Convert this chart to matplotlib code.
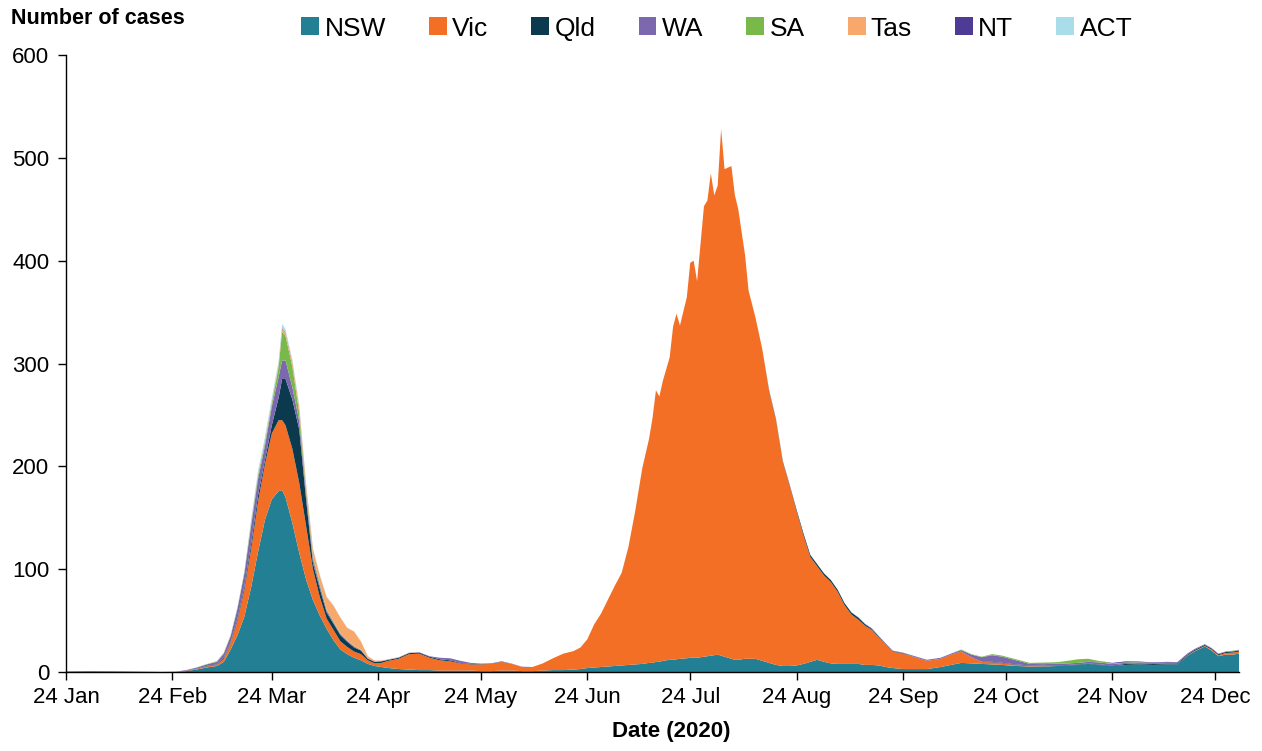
import numpy as np
import pandas as pd
import matplotlib
matplotlib.use('Agg')
import matplotlib.pyplot as plt
from matplotlib.patches import Patch

plt.rcParams['font.family'] = ['Liberation Sans', 'DejaVu Sans']

# sample dates (2020), grouped by month
days = (['01-24', '01-31', '02-07', '02-14', '02-21', '02-25', '02-28']
        + ['03-02', '03-05', '03-08', '03-10', '03-12', '03-14', '03-16', '03-18', '03-20', '03-22',
           '03-24', '03-26', '03-27', '03-28', '03-30']
        + ['04-01', '04-03', '04-05', '04-07', '04-09', '04-11', '04-13', '04-15', '04-17', '04-19',
           '04-21', '04-23', '04-25', '04-27', '04-30']
        + ['05-03', '05-06', '05-09', '05-12', '05-15', '05-18', '05-21', '05-24', '05-27', '05-30']
        + ['06-02', '06-05', '06-08', '06-11', '06-14', '06-17', '06-20', '06-22', '06-24', '06-26',
           '06-28', '06-30']
        + ['07-02', '07-04', '07-06', '07-08', '07-10', '07-12', '07-13', '07-14', '07-15', '07-16',
           '07-18', '07-19', '07-20', '07-21', '07-23', '07-24', '07-25', '07-26', '07-28', '07-29',
           '07-30', '07-31']
        + ['08-01', '08-02', '08-03', '08-05', '08-06', '08-07', '08-09', '08-10', '08-12', '08-14',
           '08-16', '08-18', '08-20', '08-22', '08-24', '08-26', '08-28', '08-30']
        + ['09-01', '09-03', '09-05', '09-07', '09-09', '09-11', '09-13', '09-15', '09-17', '09-19',
           '09-21', '09-24', '09-28']
        + ['10-01', '10-05', '10-08', '10-11', '10-14', '10-17', '10-20', '10-23', '10-27', '10-31']
        + ['11-04', '11-08', '11-11', '11-14', '11-17', '11-20', '11-24', '11-28']
        + ['12-02', '12-06', '12-10', '12-13', '12-16', '12-18', '12-21', '12-23', '12-25', '12-27',
           '12-29', '12-31'])

nsw = ([0.3, 0.5, 0.3, 0.2, 0.1, 0.3, 1]
       + [2.5, 4.5, 6, 10, 22, 36, 54, 83, 117, 148, 168, 176, 177, 170, 145]
       + [116, 90, 70, 55, 42, 31, 22, 17.5, 14, 11.5, 8, 6, 5, 4, 3]
       + [2.5, 2, 2, 1.5, 1.5, 1.5, 1.5, 1, 1, 1.5]
       + [1.5, 1, 1, 1.5, 2, 2, 2.5, 3, 4, 4.5, 5, 5.5]
       + [6, 6.5, 7, 7.5, 8, 9, 9, 10, 10, 11, 12, 12, 12.5, 13, 13.5, 14, 14, 14, 15, 15.5, 16, 16.5]
       + [17, 16, 15, 13, 12, 12, 13, 13, 13, 11, 9, 7, 6, 6, 6.5, 8, 10, 12]
       + [10, 8.5, 8, 8, 8, 8, 7, 7, 6.5, 5, 4, 3, 3]
       + [3, 5, 7, 9, 8.5, 8, 7.5, 7, 6, 5.5]
       + [5.5, 6, 6.5, 7, 8, 7, 6, 7]
       + [7.5, 7, 7.5, 7.5, 16, 20, 25, 21, 15.5, 17, 17, 18])

vic = ([0.3, 0.3, 0.2, 0.1, 0, 0, 0.3]
       + [0.5, 1, 1, 3, 6, 14, 26, 37, 49, 54, 64, 69, 68, 70, 72]
       + [68, 52, 30, 18, 10, 10, 8, 7, 6, 6, 3.5, 2.5, 4, 7, 10]
       + [15, 16, 12, 10, 9, 7, 6, 6.5, 7, 8.5]
       + [6.5, 4, 4, 7, 11.5, 16, 18, 21, 28, 42, 52, 65]
       + [78, 90, 115, 150, 190, 218, 238, 264, 258, 272, 294, 324, 336, 324, 351, 384, 386, 366,
          438, 443, 469, 447]
       + [456, 512, 474, 479, 452, 438, 392, 358, 332, 303, 264, 238, 198, 175, 150, 125, 102, 91]
       + [84, 79, 70, 57, 48, 43, 38, 34, 27, 22, 16, 15, 11]
       + [8, 8, 10, 11, 6, 2, 2, 1.5, 1, 0.5]
       + [0.3, 0.2, 0, 0, 0, 0, 0, 0]
       + [0, 0, 0, 0, 0.3, 0.5, 0.5, 1, 1, 1.5, 2, 2])

qld = ([0.2, 0.3, 0.3, 0.2, 0.1, 0, 0.2]
       + [0.3, 0.5, 0.5, 1, 1, 2, 3, 5, 6, 4, 8, 22, 40, 45, 48]
       + [52, 26, 6, 8, 6, 6, 6, 5, 4, 3.5, 1.5, 1.5, 1.5, 1, 1]
       + [1, 1, 1, 1, 1, 0.5, 0.5, 0.3, 0.3, 0.3]
       + [0] * 12
       + [0] * 22
       + [0] * 10 + [1, 1, 1, 1, 1.5, 2, 2, 2]
       + [2, 2, 2, 2, 2, 2, 1.5, 1, 1, 0.5, 0.5, 0.5, 0]
       + [0, 0, 0, 0, 0, 0, 0.5, 0.5, 0.5, 0.5]
       + [0.5, 0.5, 0.5, 0.5, 0.5, 0.5, 0.5, 1]
       + [1] * 12)

wa = ([0, 0, 0, 0, 0, 0.2, 0.5]
      + [1, 1.5, 2.5, 4, 6, 10, 13, 18, 16, 14, 18, 20, 18, 18, 12]
      + [8, 5, 4, 3, 2, 1.5, 1, 1, 1, 0.5, 0.5, 0.3, 0.3, 0.3, 0.3]
      + [0.3, 0.3, 0.5, 1.5, 2, 2, 1, 0.5, 0.3, 0.3]
      + [0.3, 0.3] + [0] * 10
      + [0] * 22
      + [0] * 18
      + [0, 0, 0, 0, 0, 0.5, 0.5, 0.5, 0.5, 0.5, 0.5, 0.5, 1]
      + [1, 1, 1, 1.5, 2.5, 4.5, 6.5, 6, 4, 1.5]
      + [1.5, 1.5, 1.5, 1.5, 1.5, 2, 1.5, 1]
      + [1, 1, 1, 1, 1, 1, 0.7, 0.5, 0.5, 0.5, 0.5, 0.5])

sa = ([0, 0, 0.2, 0, 0, 0, 0]
      + [0.2, 0.3, 0.5, 0.5, 0.5, 0.5, 1, 2, 3, 3, 3, 10, 28, 24, 20]
      + [8, 4, 3, 2, 1, 1, 1, 0.5, 0.5, 0.3, 0, 0, 0, 0, 0]
      + [0] * 10
      + [0] * 12
      + [0] * 22
      + [0] * 18
      + [0] * 13
      + [0, 0, 0, 0.5, 0.5, 0.5, 1, 1, 1, 1]
      + [1.5, 1.5, 2.5, 3.5, 3, 1.5, 0.5, 0.5]
      + [0.3] + [0] * 9 + [0.3, 0.3])

tas = ([0] * 7
       + [0, 0, 0.2, 0.3, 0.5, 0.5, 0.5, 1, 1, 1, 1, 2, 3, 3, 4]
       + [5, 5, 6, 8, 12, 15, 15, 12, 14, 8, 2, 1, 0.5, 0.3, 0.3]
       + [0.2] + [0] * 9
       + [0] * 12
       + [0] * 22
       + [0] * 18
       + [0] * 13
       + [0] * 10
       + [0] * 8
       + [0] * 12)

nt = ([0] * 7
      + [0, 0, 0, 0, 0, 0, 0, 0.5, 0.5, 0.5, 0.5, 0.5, 0.5, 0.5, 0.5]
      + [0.5, 0.3, 0.3] + [0] * 12
      + [0] * 10
      + [0] * 12
      + [0] * 22
      + [0] * 18
      + [0] * 13
      + [0] * 10
      + [0, 0, 0, 0, 0, 0, 0.5, 1]
      + [0.5, 0.5, 0.5, 0.3] + [0] * 8)

act = ([0] * 7
       + [0, 0, 0.2, 0.3, 0.5, 0.5, 0.5, 2.5, 3.5, 4, 4, 3, 4, 3, 2]
       + [2, 1, 1, 0.5, 0.5, 0.5, 0.3, 0.3] + [0] * 7
       + [0] * 10
       + [0] * 12
       + [0] * 22
       + [0] * 18
       + [0] * 13
       + [0] * 10
       + [0] * 8
       + [0] * 12)

states = ['NSW', 'Vic', 'Qld', 'WA', 'SA', 'Tas', 'NT', 'ACT']
colors = ['#237f94', '#f26f25', '#0b3a4f', '#7b68ae', '#79b94a', '#f9a86b', '#4e3b95', '#a9dde9']

dates = pd.to_datetime(['2020-' + d for d in days])
series = [nsw, vic, qld, wa, sa, tas, nt, act]
for s in series:
    assert len(s) == len(dates)

fig = plt.figure(figsize=(12.62, 7.51), dpi=100)
ax = fig.add_axes([0.0523, 0.105, 0.9295, 0.8218])

ax.stackplot(dates, *[np.array(s, dtype=float) for s in series], colors=colors, linewidth=0)

tick_dates = pd.to_datetime(['2020-%02d-24' % m for m in range(1, 13)])
ax.set_xticks(tick_dates)
ax.set_xticklabels([d.strftime('24 %b') for d in tick_dates], fontsize=16)
ax.set_xlim(pd.Timestamp('2020-01-24'), pd.Timestamp('2020-12-31'))
ax.set_ylim(0, 600)
ax.set_yticks(range(0, 601, 100))
ax.tick_params(axis='y', labelsize=16, length=6, width=1, pad=6)
ax.tick_params(axis='x', length=6, width=1, pad=5)

for side in ['top', 'right']:
    ax.spines[side].set_visible(False)
for side in ['left', 'bottom']:
    ax.spines[side].set_linewidth(1)

fig.text(0.009, 0.976, 'Number of cases', fontsize=15.5, fontweight='bold', va='center', ha='left')
fig.text(0.532, 0.012, 'Date (2020)', fontsize=16, fontweight='bold', va='bottom', ha='center')

handles = [Patch(facecolor=c, edgecolor='none', label=s) for s, c in zip(states, colors)]
fig.legend(handles=handles, loc='center', bbox_to_anchor=(0.568, 0.962), ncol=8, frameon=False,
           fontsize=19, handlelength=0.68, handleheight=0.68, handletextpad=0.2,
           columnspacing=1.63, borderpad=0)

fig.savefig('out.png', dpi=100)
